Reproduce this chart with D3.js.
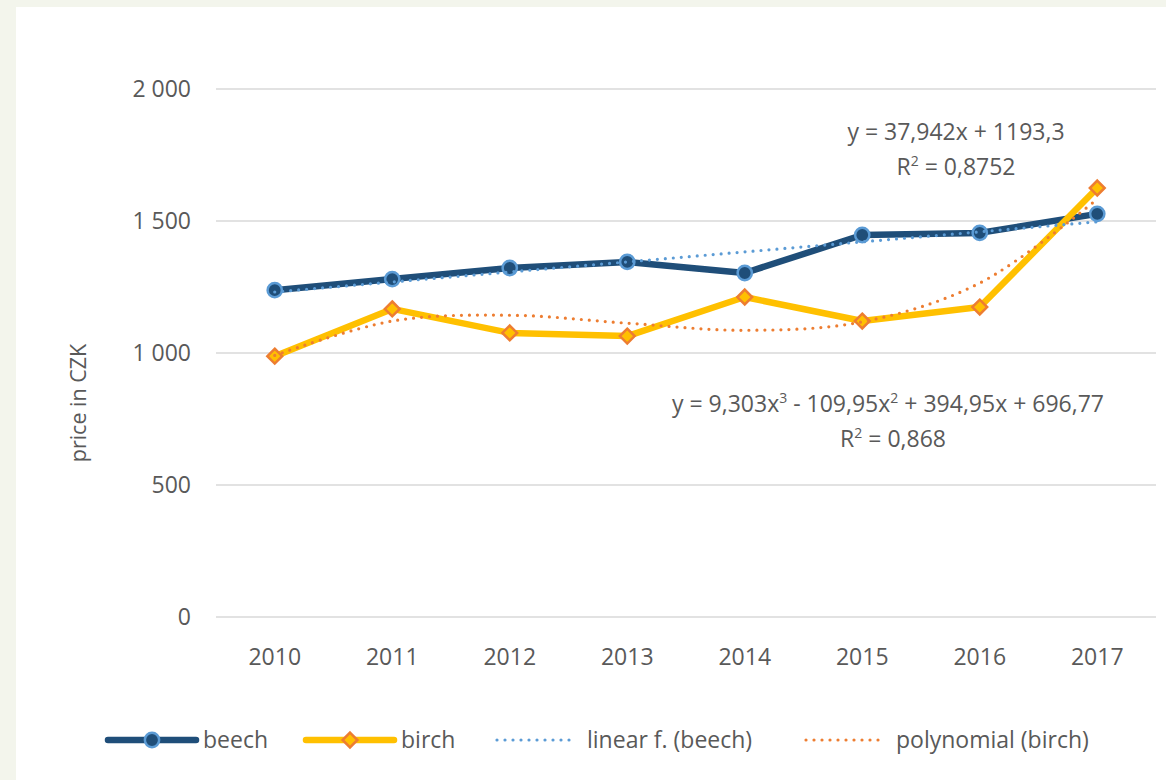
<!DOCTYPE html>
<html>
<head>
<meta charset="utf-8">
<script src="https://cdn.jsdelivr.net/npm/d3@7"></script>
<style>
  body { margin: 0; background: #f3f5ec; }
  svg { display: block; font-family: "Open Sans", sans-serif; }
</style>
</head>
<body>
<script>
// data
const years = ["2010", "2011", "2012", "2013", "2014", "2015", "2016", "2017"];
const beech = [1238, 1280, 1322, 1345, 1303, 1447, 1455, 1527];
const birch = [988, 1167, 1076, 1064, 1212, 1121, 1174, 1625];
// trendline values at each year
const beechTrend = [1231, 1269, 1307, 1345, 1383, 1421, 1459, 1497];
const birchTrend = [991, 1121, 1143, 1113, 1086, 1118, 1265, 1583];
const yTicks = [0, 500, 1000, 1500, 2000];

const width = 1166, height = 780;
const textColor = "#595959";

const svg = d3.select("body").append("svg")
    .attr("width", width)
    .attr("height", height);

// white chart panel
svg.append("rect")
    .attr("x", 16).attr("y", 7)
    .attr("width", width - 16).attr("height", height - 7)
    .attr("fill", "white");

const x = d3.scaleBand()
    .domain(years)
    .range([216, 1156]);

const y = d3.scaleLinear()
    .domain([0, 2000])
    .range([617, 89]);

const fmt = d3.formatLocale({ decimal: ",", thousands: " ", grouping: [3], currency: ["", ""] }).format(",d");

// gridlines
svg.append("g")
  .selectAll("line")
  .data(yTicks)
  .join("line")
    .attr("x1", 216).attr("x2", 1156)
    .attr("y1", d => y(d)).attr("y2", d => y(d))
    .attr("stroke", "#d9d9d9")
    .attr("stroke-width", 1.6);

// y axis labels
svg.append("g")
    .attr("font-size", 23)
    .attr("fill", textColor)
    .attr("text-anchor", "end")
  .selectAll("text")
  .data(yTicks)
  .join("text")
    .attr("x", 191)
    .attr("y", d => y(d))
    .attr("dy", "0.35em")
    .text(d => fmt(d));

// x axis labels
svg.append("g")
    .attr("font-size", 23)
    .attr("fill", textColor)
    .attr("text-anchor", "middle")
  .selectAll("text")
  .data(years)
  .join("text")
    .attr("x", d => x(d) + x.bandwidth() / 2)
    .attr("y", 657)
    .attr("dy", "0.35em")
    .text(d => d);

// y axis title
svg.append("text")
    .attr("transform", "translate(78,403) rotate(-90)")
    .attr("text-anchor", "middle")
    .attr("dy", "0.35em")
    .attr("font-size", 21.5)
    .attr("fill", textColor)
    .text("price in CZK");

const cx = i => x(years[i]) + x.bandwidth() / 2;

const line = d3.line()
    .x((d, i) => cx(i))
    .y(d => y(d));

const smooth = d3.line()
    .x((d, i) => cx(i))
    .y(d => y(d))
    .curve(d3.curveCatmullRom.alpha(0.5));

// series lines
svg.append("path")
    .attr("d", line(beech))
    .attr("fill", "none")
    .attr("stroke", "#1f4e79")
    .attr("stroke-width", 6.5)
    .attr("stroke-linejoin", "round");

svg.append("path")
    .attr("d", line(birch))
    .attr("fill", "none")
    .attr("stroke", "#ffc000")
    .attr("stroke-width", 6.5)
    .attr("stroke-linejoin", "round");

// markers
const circleSym = d3.symbol().type(d3.symbolCircle).size(160);
const diamondSym = d3.symbol().type(d3.symbolDiamond2).size(140);

svg.append("g")
  .selectAll("path")
  .data(beech)
  .join("path")
    .attr("d", circleSym)
    .attr("transform", (d, i) => `translate(${cx(i)},${y(d)})`)
    .attr("fill", "#1f4e79")
    .attr("stroke", "#5b9bd5")
    .attr("stroke-width", 2.5);

svg.append("g")
  .selectAll("path")
  .data(birch)
  .join("path")
    .attr("d", diamondSym)
    .attr("transform", (d, i) => `translate(${cx(i)},${y(d)})`)
    .attr("fill", "#ffc000")
    .attr("stroke", "#ed7d31")
    .attr("stroke-width", 2.5);

// trendlines
svg.append("path")
    .attr("d", line(beechTrend))
    .attr("fill", "none")
    .attr("stroke", "#5b9bd5")
    .attr("stroke-width", 3.2)
    .attr("stroke-linecap", "round")
    .attr("stroke-dasharray", "0 8");

svg.append("path")
    .attr("d", smooth(birchTrend))
    .attr("fill", "none")
    .attr("stroke", "#ed7d31")
    .attr("stroke-width", 3.2)
    .attr("stroke-linecap", "round")
    .attr("stroke-dasharray", "0 8");

// trendline equations
const eq = svg.append("g")
    .attr("font-size", 23)
    .attr("fill", textColor)
    .attr("text-anchor", "middle");

eq.append("text").attr("x", 956).attr("y", 132).attr("dy", "0.35em")
    .text("y = 37,942x + 1193,3");
eq.append("text").attr("x", 956).attr("y", 167).attr("dy", "0.35em")
    .html("R<tspan baseline-shift='super' font-size='14'>2</tspan> = 0,8752");
eq.append("text").attr("x", 888).attr("y", 404).attr("dy", "0.35em")
    .html("y = 9,303x<tspan baseline-shift='super' font-size='14'>3</tspan> - 109,95x<tspan baseline-shift='super' font-size='14'>2</tspan> + 394,95x + 696,77");
eq.append("text").attr("x", 893).attr("y", 439).attr("dy", "0.35em")
    .html("R<tspan baseline-shift='super' font-size='14'>2</tspan> = 0,868");

// legend
const legendItems = [
  { name: "beech", x: 108, color: "#1f4e79", dash: null, marker: "circle" },
  { name: "birch", x: 306, color: "#ffc000", dash: null, marker: "diamond" },
  { name: "linear f. (beech)", x: 495, color: "#5b9bd5", dash: "0 8", marker: null },
  { name: "polynomial (birch)", x: 804, color: "#ed7d31", dash: "0 8", marker: null }
];

const lg = svg.append("g")
  .selectAll("g")
  .data(legendItems)
  .join("g")
    .attr("transform", d => `translate(${d.x},740)`);

lg.append("line")
    .attr("x1", d => d.dash ? 2 : 0)
    .attr("x2", d => d.dash ? 78 : 88)
    .attr("stroke", d => d.color)
    .attr("stroke-width", d => d.dash ? 3.2 : 6.5)
    .attr("stroke-linecap", "round")
    .attr("stroke-dasharray", d => d.dash);

lg.filter(d => d.marker === "circle").append("path")
    .attr("d", circleSym)
    .attr("transform", "translate(44,0)")
    .attr("fill", "#1f4e79")
    .attr("stroke", "#5b9bd5")
    .attr("stroke-width", 2.5);

lg.filter(d => d.marker === "diamond").append("path")
    .attr("d", diamondSym)
    .attr("transform", "translate(44,0)")
    .attr("fill", "#ffc000")
    .attr("stroke", "#ed7d31")
    .attr("stroke-width", 2.5);

lg.append("text")
    .attr("x", d => d.dash ? 92 : 95)
    .attr("dy", "0.35em")
    .attr("font-size", 23)
    .attr("fill", textColor)
    .text(d => d.name);
</script>
</body>
</html>
